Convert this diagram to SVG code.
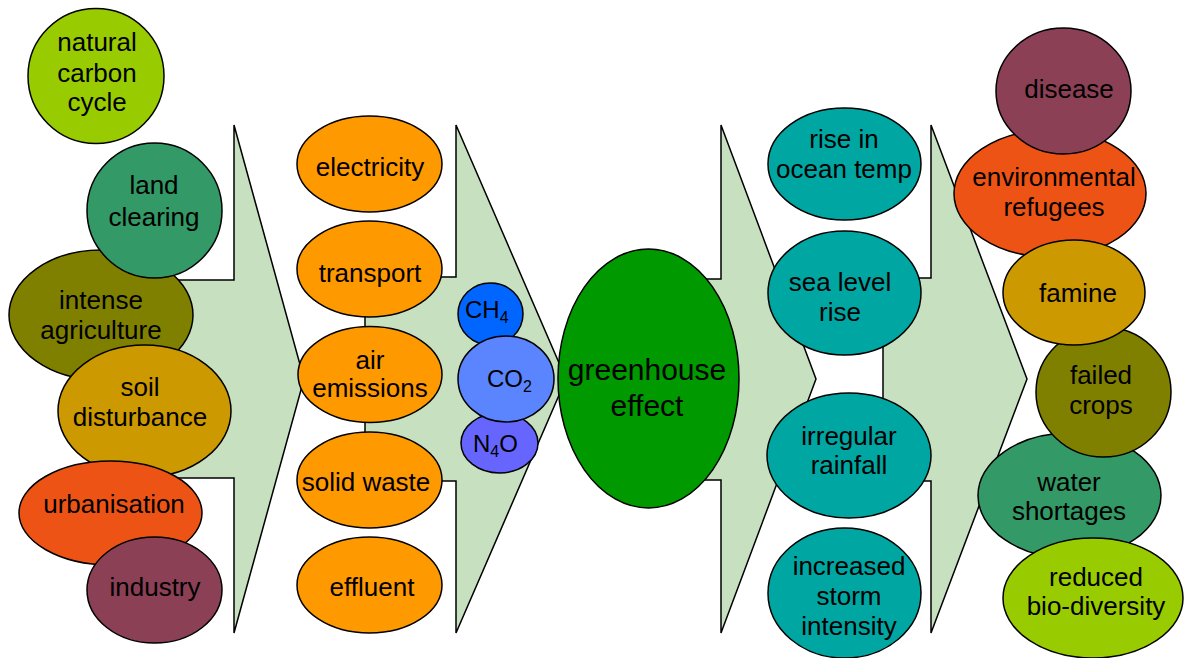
<svg xmlns="http://www.w3.org/2000/svg" width="1184" height="658" viewBox="0 0 1184 658">
<style>
.arrow{fill:#c6e0c0;stroke:#000;stroke-width:1.5;stroke-linejoin:miter}
.n{stroke:#000;stroke-width:1.5}
text{font-family:"Liberation Sans",Arial,sans-serif;font-size:26px;fill:#000;text-anchor:middle}
.big{font-size:30px}
.gas{font-size:24px;text-anchor:start}
.sub{font-size:16px}
.lime{fill:#99cc00}.sea{fill:#339966}.olive{fill:#808000}.gold{fill:#cc9900}
.red{fill:#ee5316}.plum{fill:#8b4055}.orange{fill:#ff9900}.teal{fill:#00a6a2}
.green{fill:#009900}
</style>
<rect width="1184" height="658" fill="#fff"/>
<g id="connectors">
<polygon class="arrow" points="883,278 931,278 931,125 1027,379 931,633 931,481 883,481"/>
<polygon class="arrow" points="650,279 721,279 721,125 816,379 721,633 721,480 650,480"/>
<polygon class="arrow" points="365,277 456,277 456,125 566,379 456,633 456,481 365,481"/>
<polygon class="arrow" points="150,280 234,280 234,125 304,379 234,633 234,478 150,478"/>
</g>
<g id="col4">
<g id="environmental-refugees"><ellipse class="n red" cx="1050" cy="193.5" rx="96" ry="63.5"/><text x="1054" y="186">environmental</text><text x="1054" y="216">refugees</text></g>
<g id="disease"><ellipse class="n plum" cx="1063.5" cy="91" rx="67.5" ry="63"/><text x="1069" y="98">disease</text></g>
<g id="water-shortages"><ellipse class="n sea" cx="1069.5" cy="495.5" rx="91.5" ry="62.5"/><text x="1069" y="491">water</text><text x="1069" y="520">shortages</text></g>
<g id="reduced-bio-diversity"><ellipse class="n lime" cx="1093" cy="598" rx="90" ry="60"/><text x="1096" y="586">reduced</text><text x="1096" y="615">bio-diversity</text></g>
<g id="failed-crops"><ellipse class="n olive" cx="1103.5" cy="392" rx="67.5" ry="65"/><text x="1101" y="384">failed</text><text x="1101" y="414">crops</text></g>
<g id="famine"><ellipse class="n gold" cx="1074" cy="292.5" rx="71" ry="52.5"/><text x="1078" y="302">famine</text></g>
</g>
<g id="col3">
<g id="rise-in-ocean-temp"><ellipse class="n teal" cx="844.5" cy="164" rx="76.5" ry="56"/><text x="844" y="148">rise in</text><text x="844" y="178">ocean temp</text></g>
<g id="sea-level-rise"><ellipse class="n teal" cx="844.5" cy="293" rx="76.5" ry="62"/><text x="840" y="291">sea level</text><text x="840" y="321">rise</text></g>
<g id="irregular-rainfall"><ellipse class="n teal" cx="849" cy="455.5" rx="82" ry="62.5"/><text x="849" y="445">irregular</text><text x="849" y="474">rainfall</text></g>
<g id="increased-storm-intensity"><ellipse class="n teal" cx="844.5" cy="593" rx="76.5" ry="65"/><text x="849" y="575">increased</text><text x="849" y="605">storm</text><text x="849" y="635">intensity</text></g>
</g>
<g id="greenhouse-effect"><ellipse class="n green" cx="648.5" cy="378.5" rx="90.5" ry="129.5"/><text class="big" x="647" y="380">greenhouse</text><text class="big" x="647" y="416">effect</text></g>
<g id="col2">
<g id="electricity"><ellipse class="n orange" cx="369.5" cy="164" rx="72.5" ry="48"/><text x="370" y="176">electricity</text></g>
<g id="transport"><ellipse class="n orange" cx="369.5" cy="269" rx="72.5" ry="48"/><text x="370" y="282">transport</text></g>
<g id="air-emissions"><ellipse class="n orange" cx="370" cy="374.5" rx="72" ry="48"/><text x="370" y="369">air</text><text x="370" y="397">emissions</text></g>
<g id="solid-waste"><ellipse class="n orange" cx="369.5" cy="480" rx="72.5" ry="48"/><text x="366" y="491">solid waste</text></g>
<g id="effluent"><ellipse class="n orange" cx="369.5" cy="585" rx="72.5" ry="48"/><text x="372" y="596">effluent</text></g>
</g>
<g id="gases">
<g id="ch4"><ellipse class="n" fill="#0066ff" cx="490.5" cy="314" rx="32.5" ry="31"/><text class="gas" x="465" y="318">CH<tspan class="sub" dy="5">4</tspan></text></g>
<g id="n4o"><ellipse class="n" fill="#6666ff" cx="499.5" cy="443" rx="38.5" ry="30"/><text class="gas" x="473" y="452">N<tspan class="sub" dy="5">4</tspan><tspan dy="-5">O</tspan></text></g>
<g id="co2"><ellipse class="n" fill="#5b85ff" cx="506" cy="379" rx="48" ry="43"/><text class="gas" x="487" y="387">CO<tspan class="sub" dy="5">2</tspan></text></g>
</g>
<g id="col1">
<g id="intense-agriculture"><ellipse class="n olive" cx="101" cy="315" rx="92" ry="65"/><text x="101" y="309">intense</text><text x="101" y="339">agriculture</text></g>
<g id="land-clearing"><ellipse class="n sea" cx="154.5" cy="210.5" rx="67.5" ry="67.5"/><text x="154" y="194">land</text><text x="154" y="226">clearing</text></g>
<g id="soil-disturbance"><ellipse class="n gold" cx="144.5" cy="411" rx="86.5" ry="66"/><text x="140" y="396">soil</text><text x="140" y="426">disturbance</text></g>
<g id="urbanisation"><ellipse class="n red" cx="110.5" cy="513" rx="91.5" ry="52"/><text x="114" y="513">urbanisation</text></g>
<g id="industry"><ellipse class="n plum" cx="154.5" cy="590" rx="67.5" ry="53"/><text x="155" y="596">industry</text></g>
<g id="natural-carbon-cycle"><ellipse class="n lime" cx="96" cy="76" rx="68" ry="67.5"/><text x="97" y="51">natural</text><text x="97" y="82">carbon</text><text x="97" y="111">cycle</text></g>
</g>
</svg>
